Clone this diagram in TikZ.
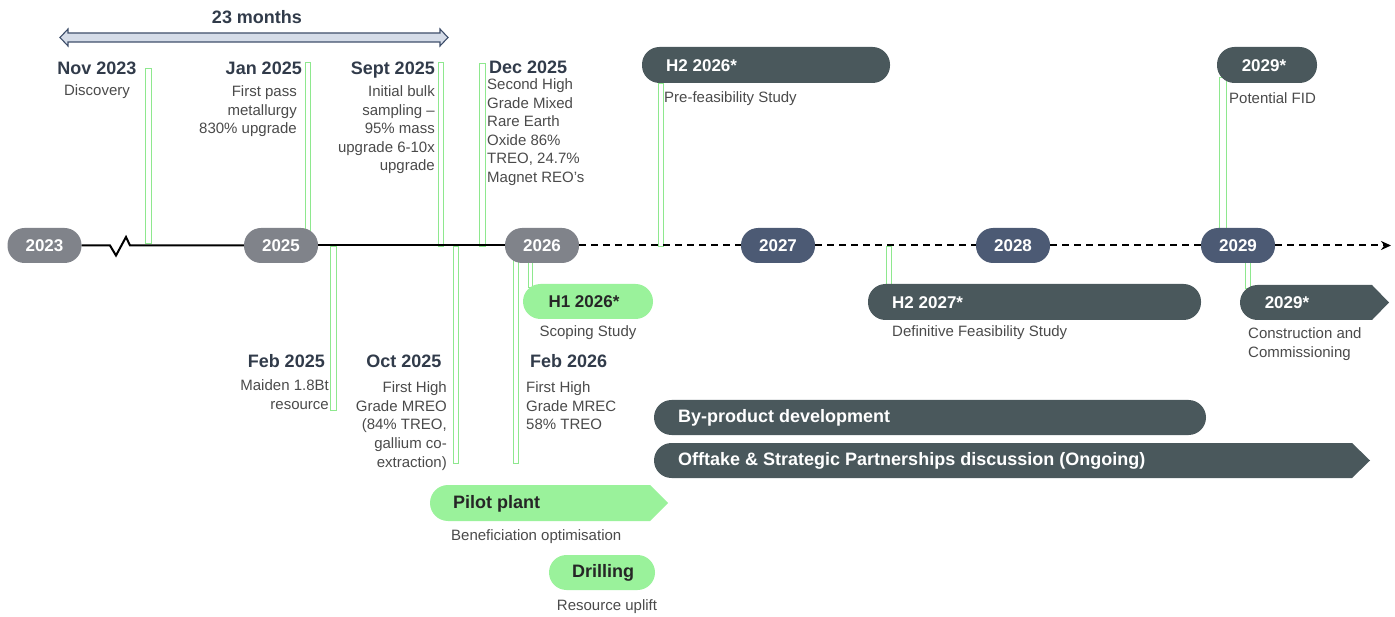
\documentclass[tikz,border=0pt]{standalone}
\usepackage{fontspec}
\setmainfont{Liberation Sans}
\usetikzlibrary{arrows.meta}
\definecolor{pillgrey}{HTML}{80838A}
\definecolor{pillblue}{HTML}{4C5A74}
\definecolor{pilldark}{HTML}{4A585C}
\definecolor{pillgreen}{HTML}{9AF29B}
\definecolor{barg}{HTML}{8EE88E}
\definecolor{datecol}{HTML}{313B4A}
\definecolor{desccol}{HTML}{4A4A4A}
\definecolor{arrfill}{HTML}{D5DCE8}
\definecolor{arrline}{HTML}{3F4F6B}
\tikzset{
  yearpill/.style={rounded corners=17pt, minimum width=74pt, minimum height=35pt, inner sep=0pt, text=white, font=\fontsize{17}{17}\selectfont\bfseries},
  pillbox/.style={rounded corners=17.5pt, inner sep=0pt},
  pilltxt/.style={inner sep=0pt, text=white, font=\fontsize{17}{17}\selectfont\bfseries},
  widetxt/.style={inner sep=0pt, text=white, font=\fontsize{18}{18}\selectfont\bfseries},
  greentxt/.style={inner sep=0pt, text=black!85, font=\fontsize{18}{18}\selectfont\bfseries},
  datelbl/.style={inner sep=0pt, text=datecol, font=\fontsize{18}{20}\selectfont\bfseries},
  desc/.style={inner sep=0pt, text=desccol, font=\fontsize{15}{18.5}\selectfont},
  gbar/.style={draw=barg, line width=0.9pt, fill=white},
  tl/.style={line width=2pt, black},
  tldash/.style={line width=2pt, black, dash pattern=on 7pt off 5pt},
}
\begin{document}
\begin{tikzpicture}[x=1pt,y=-1pt]
\useasboundingbox (0,0) rectangle (1395,617);

% 23 months double arrow
\draw[draw=arrline, fill=arrfill, line width=1.1pt, line join=miter]
  (60,37.5) -- (68,29) -- (68,33) -- (440,33) -- (440,29) -- (448,37.5)
  -- (440,46) -- (440,42) -- (68,42) -- (68,46) -- cycle;
\node[datelbl, anchor=base] (months) at (257,24) {23 months};

% green connector bars
\draw[gbar] (145,68) rectangle (151,243);
\draw[gbar] (305,62) rectangle (310,246);
\draw[gbar] (438,62) rectangle (443,246);
\draw[gbar] (479,63) rectangle (485,246);
\draw[gbar] (658,83) rectangle (663,246);
\draw[gbar] (1219,77) rectangle (1226,246);
\draw[gbar] (1245,246) rectangle (1250,288);
\draw[gbar] (330,246) rectangle (336,410);
\draw[gbar] (453,246) rectangle (458,463);
\draw[gbar] (513,246) rectangle (518,463);
\draw[gbar] (528,246) rectangle (532,287);
\draw[gbar] (886,246) rectangle (891,285);

% year pills
\node[yearpill, fill=pillgrey] (y23) at (44.5,245.5) {2023};
\node[yearpill, fill=pillgrey] (y25) at (281,245.5) {2025};
\node[yearpill, fill=pillgrey] (y26) at (542,245.5) {2026};
\node[yearpill, fill=pillblue] (y27) at (778,245.5) {2027};
\node[yearpill, fill=pillblue] (y28) at (1013,245.5) {2028};
\node[yearpill, fill=pillblue] (y29) at (1238,245.5) {2029};
\coordinate (z1) at (110,245.5);
\coordinate (z2) at (116,255.5);
\coordinate (z3) at (126,237);
\coordinate (z4) at (130,245.5);
\coordinate (tlend) at (1391,245.5);

% timeline
\draw[tl, line join=miter] (y23.east) -- (z1) -- (z2) -- (z3) -- (z4) -- (y25.west);
\draw[tl] (y25.east) -- (y26.west);
\draw[tldash] (y26.east) -- (y27.west);
\draw[tldash] (y27.east) -- (y28.west);
\draw[tldash] (y28.east) -- (y29.west);
\draw[tldash, -{Stealth[length=10pt,width=9pt]}] (y29.east) -- (tlend);

% top labels (multi-line nodes: base = baseline of last line)
\node[datelbl, anchor=base] (dnov) at (97,75) {Nov 2023};
\node[desc, anchor=base] (tnov) at (97,96) {Discovery};
\node[datelbl, anchor=base east] (djan) at (302,75) {Jan 2025};
\node[desc, anchor=base east, align=right] (tjan) at (297,134) {First pass\\metallurgy\\830\% upgrade};
\node[datelbl, anchor=base east] (dsep) at (435,75) {Sept 2025};
\node[desc, anchor=base east, align=right] (tsep) at (435,171) {Initial bulk\\sampling –\\95\% mass\\upgrade 6-10x\\upgrade};
\node[datelbl, anchor=base west] (ddec) at (489,74) {Dec 2025};
\node[desc, anchor=base west, align=left] (tdec) at (487,182.5) {Second High\\Grade Mixed\\Rare Earth\\Oxide 86\%\\TREO, 24.7\%\\Magnet REO’s};

% bottom labels
\node[datelbl, anchor=base east] (dfeb5) at (325,368) {Feb 2025};
\node[desc, anchor=base east, align=right] (tfeb5) at (329,409.5) {Maiden 1.8Bt\\resource};
\node[datelbl, anchor=base] (doct) at (404,368) {Oct 2025};
\node[desc, anchor=base east, align=right] (toct) at (447,467) {First High\\Grade MREO\\(84\% TREO,\\gallium co-\\extraction)};
\node[datelbl, anchor=base west] (dfeb6) at (530,368) {Feb 2026};
\node[desc, anchor=base west, align=left] (tfeb6) at (526,430) {First High\\Grade MREC\\58\% TREO};

% H2 2026 pill
\node[pillbox, fill=pilldark, minimum width=248pt, minimum height=36pt] (h226) at (766,65) {};
\node[pilltxt, anchor=west] (h226t) at (666,65.5) {H2 2026*};
\node[desc, anchor=base west] (pfs) at (664,103) {Pre-feasibility Study};

% 2029 top pill
\node[pillbox, fill=pilldark, minimum width=100pt, minimum height=36pt] (p29a) at (1267,65) {};
\node[pilltxt] (p29at) at (1264,65.5) {2029*};
\node[desc, anchor=base west] (fid) at (1229,104) {Potential FID};

% H1 2026 pill
\node[pillbox, fill=pillgreen, minimum width=130pt, minimum height=35pt] (h126) at (588,301.5) {};
\node[greentxt, font=\fontsize{17}{17}\selectfont\bfseries] (h126t) at (584,302) {H1 2026*};
\node[desc, anchor=base] (scope) at (588,337) {Scoping Study};

% H2 2027 pill
\node[pillbox, fill=pilldark, minimum width=333pt, minimum height=36pt] (h227) at (1034.5,302) {};
\node[pilltxt, anchor=west] (h227t) at (892,302.5) {H2 2027*};
\node[desc, anchor=base west] (dfs) at (892,337) {Definitive Feasibility Study};

% 2029 lower arrow pill
\fill[pilldark] (1257.5,285) -- (1372,285) -- (1389,302.5) -- (1372,320) -- (1257.5,320)
  arc[start angle=270, end angle=90, radius=17.5pt] -- cycle;
\node[pilltxt] (p29bt) at (1287,303) {2029*};
\node[desc, anchor=base west, align=left] (cc) at (1248,357.5) {Construction and\\Commissioning};

% By-product pill
\node[pillbox, fill=pilldark, minimum width=552pt, minimum height=35pt] (byp) at (930,417.5) {};
\node[widetxt, anchor=west] (bypt) at (678,418) {By-product development};

% Offtake arrow pill
\fill[pilldark] (671.5,443) -- (1352,443) -- (1370,460.5) -- (1352,478) -- (671.5,478)
  arc[start angle=270, end angle=90, radius=17.5pt] -- cycle;
\node[widetxt, anchor=west] (offt) at (678,461) {Offtake \& Strategic Partnerships discussion (Ongoing)};

% Pilot plant arrow pill
\fill[pillgreen] (448,485) -- (650,485) -- (668,503) -- (650,521) -- (448,521)
  arc[start angle=270, end angle=90, radius=18pt] -- cycle;
\node[greentxt, anchor=west] (pilot) at (453,504) {Pilot plant};
\node[desc, anchor=base west] (benef) at (451,540) {Beneficiation optimisation};

% Drilling pill
\node[pillbox, fill=pillgreen, minimum width=106pt, minimum height=35pt] (drill) at (602,572.5) {};
\node[greentxt] (drillt) at (603,573) {Drilling};
\node[desc, anchor=base] (uplift) at (607,610) {Resource uplift};
\end{tikzpicture}
\end{document}
